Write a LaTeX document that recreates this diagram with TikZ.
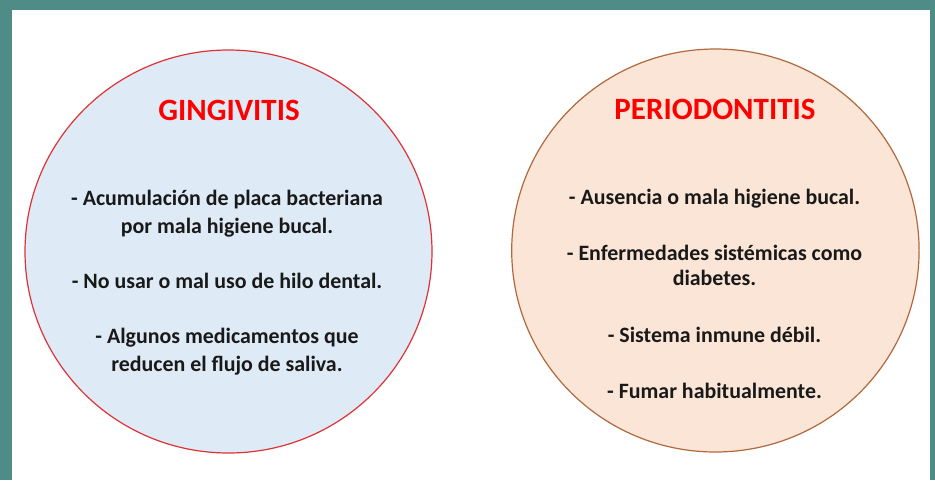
\documentclass[tikz,border=0pt]{standalone}
\usepackage{fontspec}
\setmainfont{Carlito}
\definecolor{teal1}{RGB}{80,140,135}
\definecolor{lblue}{RGB}{222,234,246}
\definecolor{lpeach}{RGB}{251,229,214}
\definecolor{redline}{RGB}{222,50,55}
\definecolor{brownline}{RGB}{176,104,60}
\tikzset{
  title/.style={text=red, font=\fontsize{31}{37}\selectfont\bfseries, anchor=base, inner sep=0pt},
  body/.style={text=black!90, font=\fontsize{21.9}{26}\selectfont\bfseries, anchor=base, inner sep=0pt},
}
\begin{document}
\begin{tikzpicture}[x=1pt,y=-1pt]
\useasboundingbox (0,0) rectangle (935,480);
\fill[teal1] (0,0) rectangle (935,480);
\fill[white] (12,10) rectangle (930,480);
\draw[redline, fill=lblue, line width=1.2pt] (228.5,251.5) ellipse [x radius=203.5, y radius=201.5];
\draw[brownline, fill=lpeach, line width=1.2pt] (715.4,250.5) ellipse [x radius=203.7, y radius=201.5];
\node[title] (t1) at (229,120) {GINGIVITIS};
\node[body] (l1) at (227,205) {- Acumulación de placa bacteriana};
\node[body] (l2) at (227,233) {por mala higiene bucal.};
\node[body] (l3) at (227,288) {- No usar o mal uso de hilo dental.};
\node[body] (l4) at (227,343) {- Algunos medicamentos que};
\node[body] (l5) at (227,371) {reducen el flujo de saliva.};
\node[title] (t2) at (715,119) {PERIODONTITIS};
\node[body] (r1) at (714.5,204) {- Ausencia o mala higiene bucal.};
\node[body] (r2) at (714.5,260) {- Enfermedades sistémicas como};
\node[body] (r3) at (714.5,285) {diabetes.};
\node[body] (r4) at (714.5,342) {- Sistema inmune débil.};
\node[body] (r5) at (714.5,398) {- Fumar habitualmente.};
\end{tikzpicture}
\end{document}
